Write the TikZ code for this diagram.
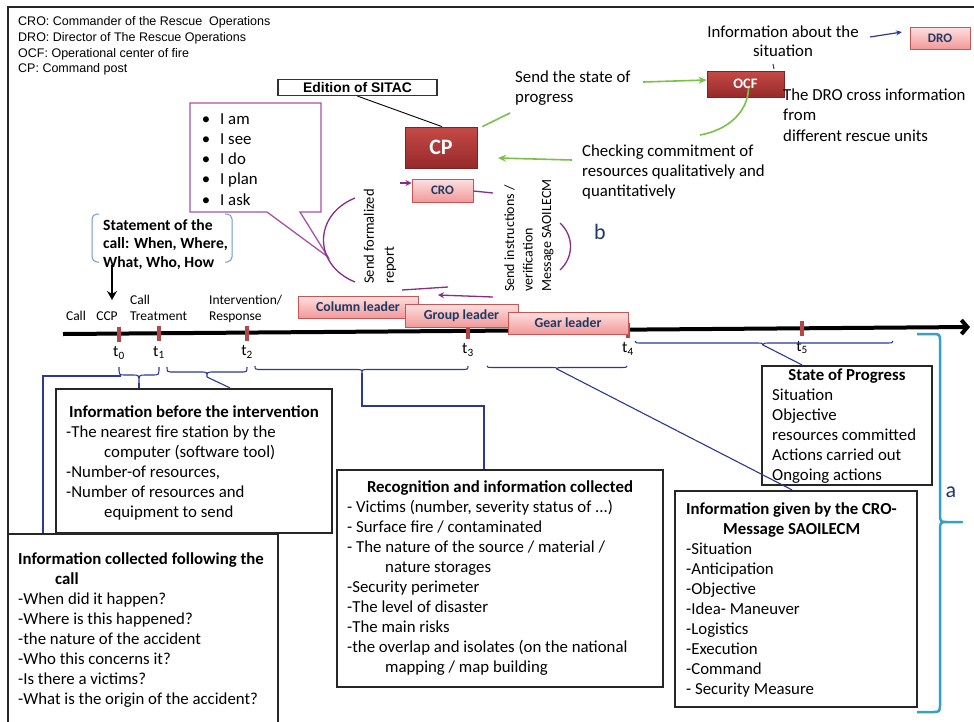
\documentclass[tikz,border=0pt]{standalone}
\usepackage{fontspec}
\setmainfont{Carlito}
\newfontfamily\arialfont{Liberation Sans}
\usetikzlibrary{arrows.meta,calc,shadows}

\definecolor{purp}{RGB}{135,45,135}
\definecolor{callpurp}{RGB}{170,80,170}
\definecolor{grn}{RGB}{120,195,70}
\definecolor{navy}{RGB}{45,55,150}
\definecolor{tealc}{RGB}{55,160,195}
\definecolor{tickred}{RGB}{180,70,70}
\definecolor{lblblue}{RGB}{31,56,100}
\definecolor{brkblue}{RGB}{110,155,210}
\definecolor{pinktop}{RGB}{253,224,224}
\definecolor{pinkbot}{RGB}{242,152,152}
\definecolor{pinkdraw}{RGB}{200,85,85}
\definecolor{redtop}{RGB}{196,74,70}
\definecolor{redbot}{RGB}{150,42,42}
\definecolor{reddraw}{RGB}{125,35,35}

\newcommand\bodyfont{\fontsize{16.8}{16.8}\selectfont}

\tikzset{
  ln/.style={anchor=base west, inner sep=0pt, font=\bodyfont},
  lnb/.style={anchor=base west, inner sep=0pt, font=\bodyfont\bfseries},
  lnc/.style={anchor=base, inner sep=0pt, font=\bodyfont\bfseries},
  infobox/.style={draw=black!85, line width=2.2pt, inner sep=0pt},
  softshadow/.style={drop shadow={opacity=0.25, shadow xshift=1.2pt, shadow yshift=-1.2pt}},
  pinkbox/.style={draw=pinkdraw, line width=0.8pt, top color=pinktop, bottom color=pinkbot,
    text=lblblue, inner sep=0pt, font=\fontsize{13.8}{13.8}\selectfont\bfseries, softshadow},
  redbox/.style={draw=reddraw, line width=0.8pt, top color=redtop, bottom color=redbot,
    text=white, inner sep=0pt, softshadow},
  brc/.style={draw=navy, line width=1.1pt},
  purpline/.style={draw=purp, line width=1.3pt},
  grnline/.style={draw=grn, line width=1.6pt},
  tickmark/.style={draw=tickred, line width=4pt},
  tlbl/.style={anchor=base west, inner sep=0pt, font=\fontsize{13.5}{13.5}\selectfont},
  stmt/.style={anchor=base west, inner sep=0pt, font=\fontsize{15.6}{15.6}\selectfont\bfseries},
  legend/.style={anchor=base west, inner sep=0pt, font=\arialfont\fontsize{12.5}{12.5}\selectfont},
}

% horizontal brace under the time line: x1, x2, tip x, top y, depth, curve radius
\newcommand\tlbrace[6]{%
  \draw[brc] (#1,#4) .. controls (#1,#4+#5) .. (#1+#6,#4+#5) -- (#3-#6,#4+#5)
    .. controls (#3,#4+#5) .. (#3,#4+2*#5) .. controls (#3,#4+#5) .. (#3+#6,#4+#5)
    -- (#2-#6,#4+#5) .. controls (#2,#4+#5) .. (#2,#4);}

\begin{document}
\begin{tikzpicture}[x=1pt,y=-1pt]
\useasboundingbox (0,0) rectangle (974,721);
\fill[white] (0,0) rectangle (974,721);

% outer frame
\draw[line width=2pt, black!85] (8,721) -- (8,7) -- (974,7);

% abbreviations
\node[legend] (leg0) at (18,25) {CRO: Commander of the Rescue\ \ Operations};
\node[legend] (leg1) at (18,41) {DRO: Director of The Rescue Operations};
\node[legend] (leg2) at (18,57) {OCF: Operational center of fire};
\node[legend] (leg3) at (18,72.5) {CP: Command post};

% ---------- upper command chain ----------
\node[draw=black!80, line width=1.2pt, minimum width=159pt, minimum height=16pt, inner sep=0pt,
      font=\arialfont\fontsize{13.9}{13.9}\selectfont\bfseries] (ed) at (357.5,87.5) {Edition of SITAC};

\node[redbox, minimum width=72pt, minimum height=41pt, font=\fontsize{22}{22}\selectfont\bfseries] (cp) at (441,147.5) {CP};
\node[pinkbox, minimum width=61pt, minimum height=23pt, font=\fontsize{13}{13}\selectfont\bfseries] (cro) at (442.5,190.5) {CRO};
\node[redbox, minimum width=77pt, minimum height=26pt, font=\fontsize{14.5}{14.5}\selectfont\bfseries] (ocf) at (745.5,84) {OCF};
\node[pinkbox, minimum width=60pt, minimum height=22pt, font=\fontsize{13}{13}\selectfont\bfseries] (dro) at (940,38) {DRO};

\draw[black, line width=0.9pt] (ed.south) -- ([xshift=1pt]cp.north);

% texts around the command post
\node[anchor=base, inner sep=0pt, font=\bodyfont] (inf1) at (783,37) {Information about the};
\node[anchor=base, inner sep=0pt, font=\bodyfont] (inf2) at (783,56.5) {situation};
\node[ln] (st1) at (515,82.5) {Send the state of};
\node[ln] (st2) at (515,102) {progress};
\node[ln] (dr1) at (783,100.5) {The DRO cross information};
\node[ln] (dr2) at (783,120.5) {from};
\node[ln] (dr3) at (783,141) {different rescue units};
\node[ln] (ck1) at (582,156) {Checking commitment of};
\node[ln] (ck2) at (582,176) {resources qualitatively and};
\node[ln] (ck3) at (582,196) {quantitatively};

% navy arrow toward DRO
\coordinate (infA) at (870,37);
\coordinate (infB) at (902,32);
\draw[navy, line width=1.2pt, -{Stealth[length=6pt,width=5pt]}] (infA) -- (infB);
\coordinate (ocfm1) at (773,64);
\coordinate (ocfm2) at (774,69);
\draw[navy, line width=1pt] (ocfm1) -- (ocfm2);

% green exchanges
\coordinate (sendA) at (643,82);
\draw[grnline, -{Stealth[length=8pt,width=7pt]}] (sendA) -- ([yshift=4pt]ocf.west);
\coordinate (sendB) at (510,113);
\draw[grnline] ([xshift=5pt]cp.north east) -- (sendB);
\coordinate (chkA) at (572,160);
\coordinate (chkB) at (498,158);
\draw[grnline, -{Stealth[length=8pt,width=7pt]}] (chkA) -- (chkB);
\coordinate (ocfC) at (700,135);
\draw[grnline] ([shift={(3pt,-4pt)}]ocf.center) .. controls (748,112) and (728,130) .. (ocfC);

% callout with the report items
\draw[callpurp, line width=1.3pt, fill=white] (190,103) -- (321,103) -- (321,212) -- (300,212)
  -- (328,257) -- (267,212) -- (190,212) -- cycle;
\foreach \t [count=\k from 0] in {I am, I see, I do, I plan, I ask} {
  \node[anchor=base, inner sep=0pt, font=\bodyfont] (bu\k) at (206,124+20.3*\k) {\textbullet};
  \node[ln] (bl\k) at (220,124+20.3*\k) {\t};
}
\draw[purpline] (355,198) .. controls (313,215) and (313,265) .. (355,282);

% vertical exchange labels
\node[rotate=90, anchor=west, align=left, inner sep=0pt, font=\fontsize{14.5}{20}\selectfont] (rep) at (380,284) {Send formalized\\report};
\node[rotate=90, anchor=west, align=left, inner sep=0pt, font=\fontsize{14}{18.5}\selectfont] (ins) at (529,292) {Send instructions /\\verification\\Message SAOILECM};
\draw[purpline] (560,223) .. controls (574,236) and (574,257) .. (560,270);
\node[anchor=center, inner sep=0pt, text=lblblue, font=\fontsize{22}{22}\selectfont] (lb) at (600,232) {b};

% purple links
\coordinate (croin) at (400,183);
\draw[purpline, -{Stealth[length=6pt,width=6pt]}] (croin) -- ([yshift=7.5pt]cro.west);
\coordinate (croout) at (493,193);
\draw[purpline] ([yshift=-0.5pt]cro.east) -- (croout);
\coordinate (repA) at (402,290);
\coordinate (repB) at (448,287);
\draw[purpline] (repA) -- (repB);
\coordinate (insA) at (493,297);
\coordinate (insB) at (438,295);
\draw[purpline, -{Stealth[length=6pt,width=6pt]}] (insA) -- (insB);

% statement of the call
\draw[brkblue, line width=1pt, rounded corners=5pt] (99,214) -- (92,214) -- (92,262) -- (99,262);
\draw[brkblue, line width=1pt, rounded corners=5pt] (225,214) -- (232,214) -- (232,262) -- (225,262);
\node[stmt] (sc1) at (103,230) {Statement of the};
\node[stmt] (sc2) at (103,248.5) {call: When, Where,};
\node[stmt] (sc3) at (103,267) {What, Who, How};
\coordinate (scA) at (112,265);
\coordinate (scB) at (112,300);
\draw[black, line width=2.5pt, -{Stealth[length=9pt,width=10pt]}] (scA) -- (scB);

% ---------- time line ----------
\coordinate (tlA) at (63,334);
\coordinate (tlB) at (970,327);
\draw[line width=4pt, black, -{Straight Barb[length=6pt,width=14pt]}] (tlA) -- (tlB);
\foreach \n/\f in {0/0.0617, 1/0.1058, 2/0.2029, 3/0.4465, 4/0.6229, 5/0.8148} {
  \coordinate (t\n) at ($(tlA)!\f!(tlB)$);
  \draw[tickmark] ($(t\n)+(0,-7)$) -- ($(t\n)+(0,8)$);
  \node[anchor=base, inner sep=0pt, font=\fontsize{16}{16}\selectfont] (tl\n) at ($(t\n)+(0,23)$) {t\textsubscript{\n}};
}

\node[anchor=base, inner sep=0pt, font=\fontsize{13.5}{13.5}\selectfont] (lcall) at (76,320.5) {Call};
\node[anchor=base, inner sep=0pt, font=\fontsize{13.5}{13.5}\selectfont] (lccp) at (107,320.5) {CCP};
\node[tlbl] (ltr1) at (130,304.5) {Call};
\node[tlbl] (ltr2) at (130,320.5) {Treatment};
\node[tlbl] (lint1) at (209,304.5) {Intervention/};
\node[tlbl] (lint2) at (209,320.5) {Response};

\node[pinkbox, minimum width=120pt, minimum height=22pt] (col) at (358,307) {Column leader};
\node[pinkbox, minimum width=113pt, minimum height=23pt] (grp) at (461.5,315.5) {Group leader};
\node[pinkbox, minimum width=120pt, minimum height=22pt] (gear) at (568,323) {Gear leader};

% ---------- braces under the time line ----------
\tlbrace{119}{159}{139}{367}{8}{6}
\tlbrace{167}{247}{207}{367}{5}{7}
\tlbrace{255}{468}{362}{366}{3.5}{8}
\tlbrace{487}{627}{557}{366}{1.5}{10}
\tlbrace{635}{893}{763}{341}{2}{10}

% ---------- information boxes ----------
\node[infobox, minimum width=276pt, minimum height=144pt] (ib) at (194,461) {};
\node[infobox, minimum width=270pt, minimum height=196pt] (ic) at (143,632) {};
\node[infobox, minimum width=326pt, minimum height=217pt] (rc) at (500,578.5) {};
\node[infobox, minimum width=170pt, minimum height=119pt] (sp) at (847,425.5) {};
\node[infobox, minimum width=242pt, minimum height=216pt] (gi) at (796,599) {};

% brace-to-box links
\coordinate (lk0) at (43,376);
\draw[brc] ([xshift=-100pt]ic.north) -- (lk0) -- (121,376);
\draw[brc] (139,383) -- ([xshift=-55pt]ib.north);
\draw[brc] (207,377) -- ([xshift=36pt]ib.north);
\coordinate (lk3a) at (362,373);
\coordinate (lk3b) at (362,406);
\coordinate (lk3c) at (484,406);
\draw[brc] (lk3a) -- (lk3b) -- (lk3c) -- ([xshift=-16pt]rc.north);
\coordinate (lk4) at (557,369);
\draw[brc] (lk4) -- ([xshift=-4pt]gi.north);
\coordinate (lk5) at (763,345);
\draw[brc] (lk5) -- ([xshift=-45pt]sp.north);

% information before the intervention
\node[lnc] (ibt) at (194,417) {Information before the intervention};
\node[ln] (ib0) at (66,437) {-The nearest fire station by the};
\node[ln] (ib1) at (104,457) {computer (software tool)};
\node[ln] (ib2) at (66,477) {-Number-of resources,};
\node[ln] (ib3) at (66,497) {-Number of resources and};
\node[ln] (ib4) at (104,517) {equipment to send};

% information collected following the call
\node[lnb] (ict) at (18,564) {Information collected following the};
\node[lnb] (ict2) at (55,584) {call};
\node[ln] (ic0) at (18,604) {-When did it happen?};
\node[ln] (ic1) at (18,624) {-Where is this happened?};
\node[ln] (ic2) at (18,644) {-the nature of the accident};
\node[ln] (ic3) at (18,664) {-Who this concerns it?};
\node[ln] (ic4) at (18,684) {-Is there a victims?};
\node[ln] (ic5) at (18,704) {-What is the origin of the accident?};

% recognition
\node[lnc] (rct) at (500,492.5) {Recognition and information collected};
\node[ln] (rc0) at (347,512.5) {- Victims (number, severity status of ...)};
\node[ln] (rc1) at (347,532.5) {- Surface fire / contaminated};
\node[ln] (rc2) at (347,552.5) {- The nature of the source / material /};
\node[ln] (rc3) at (385,572.5) {nature storages};
\node[ln] (rc4) at (347,592.5) {-Security perimeter};
\node[ln] (rc5) at (347,612.5) {-The level of disaster};
\node[ln] (rc6) at (347,632.5) {-The main risks};
\node[ln] (rc7) at (347,652.5) {-the overlap and isolates (on the national};
\node[ln] (rc8) at (385,672.5) {mapping / map building};

% state of progress
\node[lnc] (spt) at (847,380.5) {State of Progress};
\node[ln] (sp0) at (772,400.5) {Situation};
\node[ln] (sp1) at (772,420.5) {Objective};
\node[ln] (sp2) at (772,440.5) {resources committed};
\node[ln] (sp3) at (772,460.5) {Actions carried out};
\node[ln] (sp4) at (772,480.5) {Ongoing actions};

% information given by the CRO
\node[lnb] (git) at (686,514) {Information given by the CRO-};
\node[lnb] (git2) at (723,534) {Message SAOILECM};
\node[ln] (gi0) at (686,554) {-Situation};
\node[ln] (gi1) at (686,574) {-Anticipation};
\node[ln] (gi2) at (686,594) {-Objective};
\node[ln] (gi3) at (686,614) {-Idea- Maneuver};
\node[ln] (gi4) at (686,634) {-Logistics};
\node[ln] (gi5) at (686,654) {-Execution};
\node[ln] (gi6) at (686,674) {-Command};
\node[ln] (gi7) at (686,694) {- Security Measure};

% overall brace a
\draw[tealc, line width=2.5pt, line join=round] (917,334) -- (932,334) .. controls (940,334) .. (940,342)
  -- (940,513) .. controls (940,522) .. (948,522) -- (962,522) -- (948,522)
  .. controls (940,522) .. (940,531) -- (940,703) .. controls (940,712) .. (932,712) -- (917,712);
\node[anchor=center, inner sep=0pt, text=lblblue, font=\fontsize{22}{22}\selectfont] (la) at (951,492) {a};

\end{tikzpicture}
\end{document}
